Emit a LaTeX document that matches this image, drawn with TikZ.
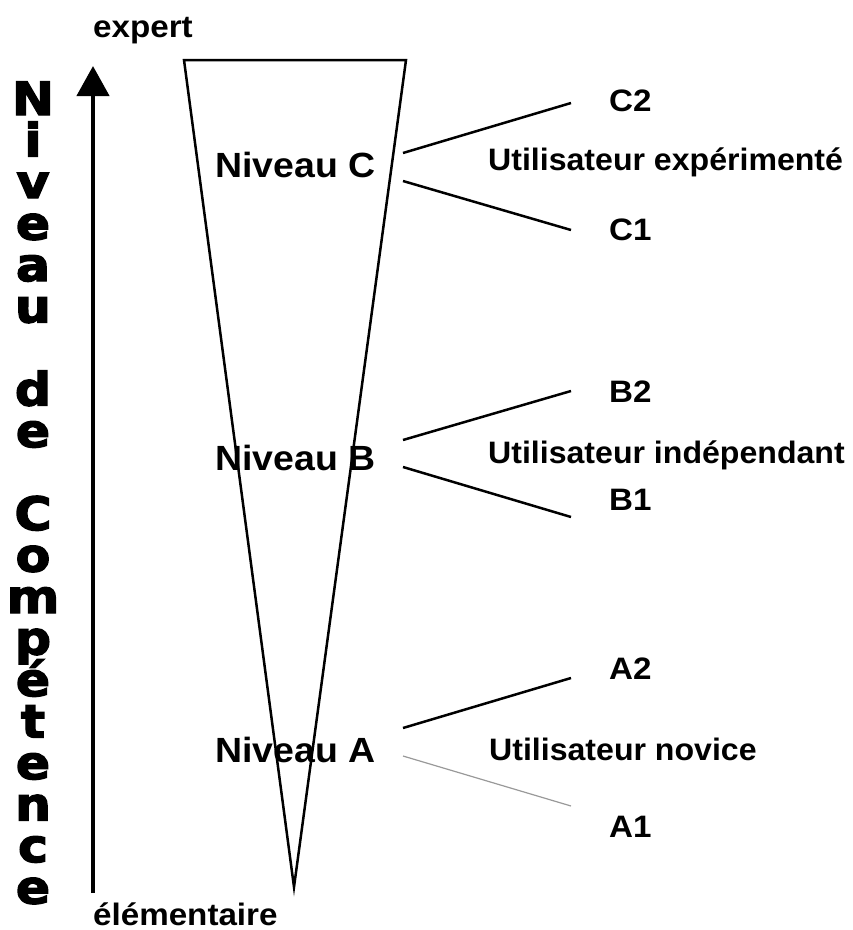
\documentclass[tikz,border=0pt]{standalone}
\usepackage{fontspec}
\setmainfont{Liberation Sans}
\newfontfamily\labelfont[UprightFont={* Bold},FakeStretch=1.07]{Liberation Sans}
\newfontfamily\userfont[UprightFont={* Bold},FakeStretch=1.035]{Liberation Sans}
\newfontfamily\heavyfont[UprightFont={* Bold},FakeBold=3,FakeStretch=1.1]{DejaVu Sans}
\usetikzlibrary{arrows.meta}

\tikzset{
  lbl/.style={anchor=base west,inner sep=0pt,font=\labelfont\fontsize{31bp}{36bp}\selectfont},
  usr/.style={anchor=base west,inner sep=0pt,font=\userfont\fontsize{31bp}{36bp}\selectfont},
  lvl/.style={anchor=base west,inner sep=0pt,font=\labelfont\fontsize{35bp}{40bp}\selectfont},
  vletter/.style={anchor=base,inner sep=0pt,font=\heavyfont\fontsize{46bp}{46bp}\selectfont},
  edge/.style={line width=2.5bp},
  thinedge/.style={line width=1.2bp,draw=black!40},
  cone/.style={line width=2.5bp,line join=miter},
  axis/.style={line width=4.5bp,-{Triangle[width=32bp,length=30bp]}}
}

\begin{document}
\begin{tikzpicture}[x=1bp,y=-1bp]
  \useasboundingbox (0,0) rectangle (853,930);

  % vertical title, one letter per line
  \foreach \k/\ch in {0/N,1/i,2/v,3/e,4/a,5/u,7/d,8/e,10/C,11/o,12/m,13/p,14/é,15/t,16/e,17/n,18/c,19/e}
    \node[vletter] (t\k) at (33,{115+41.5*\k}) {\ch};

  % competence axis
  \coordinate (axbot) at (93,893);
  \coordinate (axtop) at (93,66);
  \draw[axis] (axbot) -- (axtop);
  \node[lbl] (expert) at (93,37) {expert};
  \node[lbl] (elem) at (93,925) {élémentaire};

  % inverted cone
  \coordinate (tl) at (184,60);
  \coordinate (tr) at (406,60);
  \coordinate (tip) at (294,887);
  \draw[cone] (tl) -- (tr) -- (tip) -- cycle;

  % level names
  \node[lvl] (nC) at (215,177) {Niveau C};
  \node[lvl] (nB) at (215,470) {Niveau B};
  \node[lvl] (nA) at (215,762) {Niveau A};

  % level C branches
  \coordinate (cS1) at (403,153);
  \coordinate (cE1) at (571,103);
  \coordinate (cS2) at (403,181);
  \coordinate (cE2) at (571,230);
  \draw[edge] (cS1) -- (cE1);
  \draw[edge] (cS2) -- (cE2);
  \node[lbl] (C2) at (609,111) {C2};
  \node[lbl] (C1) at (609,240) {C1};
  \node[usr] (uC) at (488,170) {Utilisateur expérimenté};

  % level B branches
  \coordinate (bS1) at (403,440);
  \coordinate (bE1) at (571,391);
  \coordinate (bS2) at (403,467);
  \coordinate (bE2) at (571,517);
  \draw[edge] (bS1) -- (bE1);
  \draw[edge] (bS2) -- (bE2);
  \node[lbl] (B2) at (609,402) {B2};
  \node[lbl] (B1) at (609,510) {B1};
  \node[usr] (uB) at (488,463) {Utilisateur indépendant};

  % level A branches
  \coordinate (aS1) at (403,728);
  \coordinate (aE1) at (571,678);
  \coordinate (aS2) at (403,756);
  \coordinate (aE2) at (571,806);
  \draw[edge] (aS1) -- (aE1);
  \draw[thinedge] (aS2) -- (aE2);
  \node[lbl] (A2) at (609,679) {A2};
  \node[lbl] (A1) at (609,837) {A1};
  \node[usr] (uA) at (489,760) {Utilisateur novice};
\end{tikzpicture}
\end{document}
